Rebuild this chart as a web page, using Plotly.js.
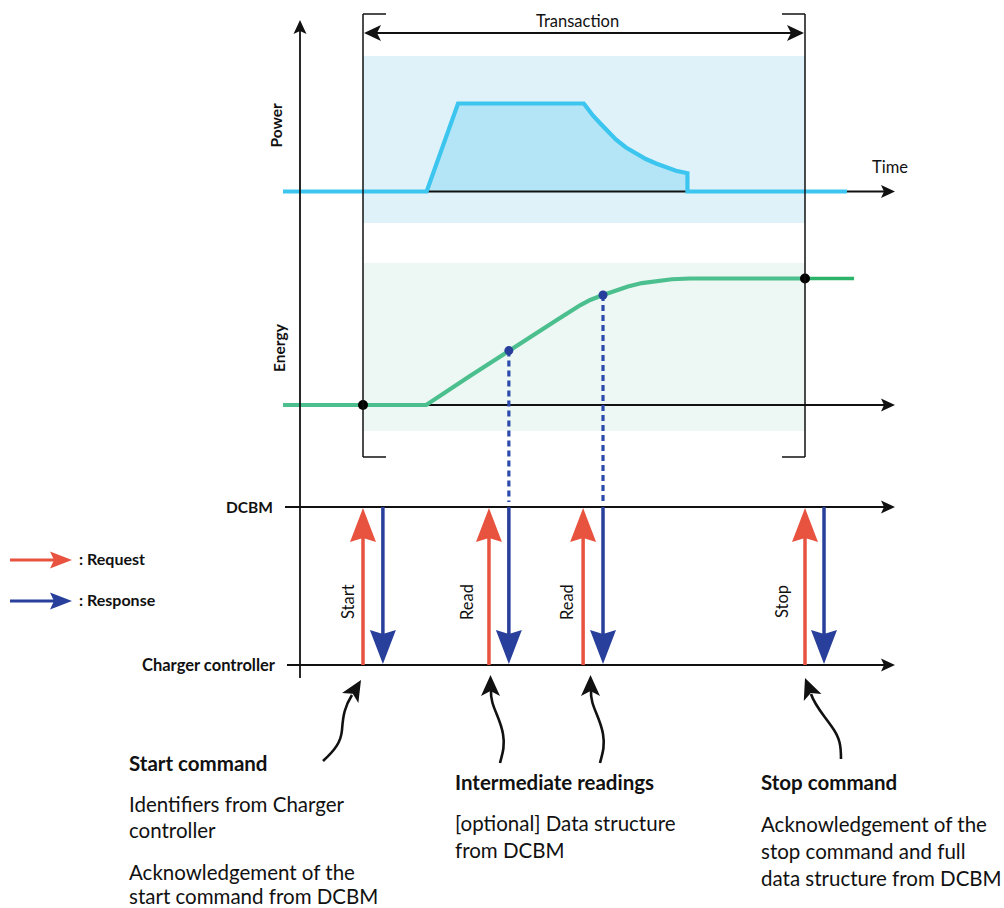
<!DOCTYPE html>
<html><head><meta charset="utf-8">
<script src="https://cdn.plot.ly/plotly-3.0.1.min.js"></script>
<style>html,body{margin:0;padding:0;background:#fff}#chart{width:1004px;height:908px}</style>
</head><body><div id="chart"></div>
<script>
// ---------------- data (time in % of transaction, power/energy relative) ----------------
const powerTime  = [-18.1, 14.4, 21.5, 49.95, 50.9, 52.0, 53.6, 55.4, 57.2, 59.5, 61.8, 64.0, 66.3, 68.6, 70.8, 73.4, 73.4, 109.5];
const powerValue = [0, 0, 1, 1, 0.938, 0.864, 0.778, 0.682, 0.591, 0.5, 0.432, 0.369, 0.318, 0.273, 0.235, 0.207, 0, 0];
const energyTime  = [-18.1, 14.3, 24.2, 32.85, 43.85, 49.2, 51.4, 54.3, 57.0, 59.95, 63.1, 66.3, 69.9, 74.0, 100];
const energyValue = [0, 0, 0.229, 0.427, 0.672, 0.79, 0.83, 0.87, 0.905, 0.937, 0.964, 0.982, 0.994, 1, 1];
const energyAfterTime  = [100, 111.1];
const energyAfterValue = [1, 1];
const eventLabels  = ['Start', 'Read', 'Read', 'Stop'];
const requestTime  = [0, 28.5, 49.8, 100];
const responseTime = [4.5, 33.0, 54.3, 104.3];
const readingTime   = [33.0, 54.3];
const readingEnergy = [0.43, 0.87];
const meterTime   = [0, 100];
const meterEnergy = [0, 1];
const transactionStart = 0, transactionEnd = 100;
const legendLabels = [': Request', ': Response'];
const yLabels = ['Power', 'Energy'];
const laneLabels = ['DCBM', 'Charger controller'];
const notes = [
  {title: 'Start command', lines: ['Identifiers from Charger', 'controller', 'Acknowledgement of the', 'start command from DCBM']},
  {title: 'Intermediate readings', lines: ['[optional] Data structure', 'from DCBM']},
  {title: 'Stop command', lines: ['Acknowledgement of the', 'stop command and full', 'data structure from DCBM']}
];

// ---------------- layout geometry ----------------
const W = 1004, H = 908;
const X0 = 363, XS = 4.42;            // pixel of t=0, px per time unit
const POW_BASE = 191.5, POW_PX = 88;  // power axis
const EN_BASE = 405, EN_PX = 126.5;   // energy axis
const px2t = p => (p - X0) / XS;
const fx = p => p / W;
const fy = p => 1 - p / H;
const px2E = p => (EN_BASE - p) / EN_PX;
const RED = '#e8533f', BLUE = '#283f9b', FONT = 'Lato, "Open Sans", sans-serif';

const powRange = [-(H - POW_BASE) / POW_PX, -(H - POW_BASE) / POW_PX + H / POW_PX];
const enRange  = [-(H - EN_BASE) / EN_PX, -(H - EN_BASE) / EN_PX + H / EN_PX];

function headPts(tx, ty, ux, uy, len, hw, notch) {
  const bx = tx - ux * len, by = ty - uy * len;
  const vx = -uy, vy = ux;
  return [[tx, ty], [bx + vx * hw, by + vy * hw], [tx - ux * (len - notch), ty - uy * (len - notch)], [bx - vx * hw, by - vy * hw]];
}
function polyPath(pts, cx, cy) {
  return 'M' + pts.map(p => cx(p[0]) + ',' + cy(p[1])).join(' L') + ' Z';
}
const shapes = [];
function paperHead(tx, ty, ux, uy, len, hw, notch, color) {
  shapes.push({type: 'path', xref: 'paper', yref: 'paper', path: polyPath(headPts(tx, ty, ux, uy, len, hw, notch), fx, fy),
    fillcolor: color, line: {width: 0}, layer: 'above'});
}
function paperLine(x0, y0, x1, y1, color, width, layer) {
  shapes.push({type: 'line', xref: 'paper', yref: 'paper', x0: fx(x0), y0: fy(y0), x1: fx(x1), y1: fy(y1),
    line: {color: color, width: width}, layer: layer || 'above'});
}
function curvePath(start, segs) {
  let s = 'M' + fx(start[0]) + ',' + fy(start[1]);
  segs.forEach(g => { s += ' C' + g.map(p => fx(p[0]) + ',' + fy(p[1])).join(' '); });
  return s;
}

// panels
shapes.push({type: 'rect', xref: 'x', yref: 'paper', x0: transactionStart, x1: transactionEnd, y0: fy(56), y1: fy(223),
  fillcolor: '#dff2fa', line: {width: 0}, layer: 'below'});
shapes.push({type: 'rect', xref: 'x', yref: 'paper', x0: transactionStart, x1: transactionEnd, y0: fy(263), y1: fy(431),
  fillcolor: '#edf7f3', line: {width: 0}, layer: 'below'});
// energy baseline axis
shapes.push({type: 'line', xref: 'x', yref: 'y2', x0: px2t(300), x1: px2t(885), y0: 0, y1: 0, line: {color: '#111', width: 1.8}, layer: 'below'});
// dotted reading lines
readingTime.forEach((t, i) => {
  shapes.push({type: 'line', xref: 'x', yref: 'y2', x0: t, x1: t, y0: readingEnergy[i], y1: px2E(502),
    line: {color: '#2b4aab', width: 3.2, dash: '6px,4px'}, layer: 'below'});
});
// transaction bracket
[transactionStart, transactionEnd].forEach((t, i) => {
  shapes.push({type: 'line', xref: 'x', yref: 'paper', x0: t, x1: t, y0: fy(14), y1: fy(457), line: {color: '#111', width: 1.5}, layer: 'above'});
  const d = (i === 0 ? 1 : -1) * 23 / XS;
  [14, 457].forEach(py => shapes.push({type: 'line', xref: 'x', yref: 'paper', x0: t, x1: t + d, y0: fy(py), y1: fy(py),
    line: {color: '#111', width: 1.5}, layer: 'above'}));
});
shapes.push({type: 'line', xref: 'x', yref: 'paper', x0: transactionStart + 8 / XS, x1: transactionEnd - 8 / XS, y0: fy(33), y1: fy(33),
  line: {color: '#111', width: 1.8}, layer: 'above'});
paperHead(X0 + transactionStart * XS + 1, 33, -1, 0, 17, 8, 4, '#111');
paperHead(X0 + transactionEnd * XS - 1, 33, 1, 0, 17, 8, 4, '#111');

// main axes
paperLine(300, 30, 300, 678, '#111', 1.8);
paperHead(300, 20, 0, -1, 14, 6.5, 3, '#111');
paperHead(895, POW_BASE, 1, 0, 14, 6.5, 3, '#111');
paperHead(895, EN_BASE, 1, 0, 14, 6.5, 3, '#111');
paperLine(285, 507, 885, 507, '#111', 1.8);
paperHead(895, 507, 1, 0, 14, 6.5, 3, '#111');
paperLine(287, 665, 885, 665, '#111', 1.8);
paperHead(895, 665, 1, 0, 14, 6.5, 3, '#111');

// request / response arrows
const tX = p => px2t(p);
requestTime.forEach(t => {
  shapes.push({type: 'line', xref: 'x', yref: 'paper', x0: t, x1: t, y0: fy(665), y1: fy(520), line: {color: RED, width: 3.5}, layer: 'above'});
  const px = X0 + t * XS;
  shapes.push({type: 'path', xref: 'x', yref: 'paper', path: polyPath(headPts(px, 508, 0, -1, 34, 13, 4), tX, fy),
    fillcolor: RED, line: {width: 0}, layer: 'above'});
});
responseTime.forEach(t => {
  shapes.push({type: 'line', xref: 'x', yref: 'paper', x0: t, x1: t, y0: fy(507), y1: fy(650), line: {color: BLUE, width: 3.5}, layer: 'above'});
  const px = X0 + t * XS;
  shapes.push({type: 'path', xref: 'x', yref: 'paper', path: polyPath(headPts(px, 664, 0, 1, 34, 13, 4), tX, fy),
    fillcolor: BLUE, line: {width: 0}, layer: 'above'});
});

// legend arrows
paperLine(10, 560, 56, 560, RED, 3);
paperHead(72, 560, 1, 0, 22, 8.5, 4, RED);
paperLine(10, 601, 56, 601, BLUE, 3);
paperHead(72, 601, 1, 0, 22, 8.5, 4, BLUE);

// curly pointer arrows
const curls = [
  {start: [323, 761], segs: [[[335, 750], [341, 742], [342, 730]], [[343, 715], [345, 706], [352, 695]]], tip: [361, 680], u: [0.514, -0.857]},
  {start: [500, 763], segs: [[[503, 752], [505, 745], [503, 734]], [[500, 716], [490, 706], [491, 690]]], tip: [490.5, 675], u: [0, -1]},
  {start: [600, 763], segs: [[[603, 752], [605, 745], [603, 734]], [[600, 716], [590, 706], [591, 690]]], tip: [590.5, 675], u: [0, -1]},
  {start: [841, 759], segs: [[[841, 746], [840, 738], [832, 727]], [[823, 714], [815, 706], [811, 694]]], tip: [805, 678], u: [-0.363, -0.932]}
];
curls.forEach(c => {
  shapes.push({type: 'path', xref: 'paper', yref: 'paper', path: curvePath(c.start, c.segs), line: {color: '#111', width: 2.6}, layer: 'above'});
  paperHead(c.tip[0], c.tip[1], c.u[0], c.u[1], 21, 9.5, 5, '#111');
});

// ---------------- annotations ----------------
const ann = [];
function txt(text, x, y, size, opts) {
  ann.push(Object.assign({text: text, xref: 'paper', yref: 'paper', x: fx(x), y: fy(y), showarrow: false,
    xanchor: 'left', yanchor: 'middle', font: {family: FONT, size: size, color: '#111'}}, opts || {}));
}
txt('Transaction', 577, 21, 16.5, {xanchor: 'center'});
txt('Time', 870, 167, 16.5);
txt('<b>' + yLabels[0] + '</b>', 276, 125.5, 15.5, {xanchor: 'center', textangle: -90});
txt('<b>' + yLabels[1] + '</b>', 279, 348, 15.5, {xanchor: 'center', textangle: -90});
txt('<b>' + laneLabels[0] + '</b>', 275, 507, 15.5, {xanchor: 'right'});
txt('<b>' + laneLabels[1] + '</b>', 278, 665, 16.5, {xanchor: 'right'});
txt('<b>' + legendLabels[0] + '</b>', 77, 558, 16);
txt('<b>' + legendLabels[1] + '</b>', 77, 599, 16);
const labelShift = [-15, -22, -16, -23];
eventLabels.forEach((l, i) => {
  ann.push({text: l, xref: 'x', yref: 'paper', x: requestTime[i], xshift: labelShift[i], y: fy(602), showarrow: false,
    xanchor: 'center', yanchor: 'middle', textangle: -90, font: {family: FONT, size: 16.5, color: '#111'}});
});
const noteX = [127, 453, 759];
const noteY = [[763, 804, 830, 872, 896], [782, 823, 850], [782, 824, 851, 878]];
notes.forEach((n, i) => {
  txt('<b>' + n.title + '</b>', noteX[i], noteY[i][0], 20.5);
  n.lines.forEach((l, j) => txt(l, noteX[i], noteY[i][j + 1], 20.5));
});

// ---------------- traces ----------------
const traces = [
  {x: powerTime, y: powerValue, mode: 'lines', fill: 'tozeroy', fillcolor: '#b3e5f6', line: {width: 0}, xaxis: 'x', yaxis: 'y', hoverinfo: 'skip'},
  {x: [px2t(300), px2t(885)], y: [0, 0], mode: 'lines', line: {color: '#111', width: 1.8}, xaxis: 'x', yaxis: 'y', hoverinfo: 'skip'},
  {x: powerTime, y: powerValue, mode: 'lines', line: {color: '#3cc5ee', width: 4.2}, xaxis: 'x', yaxis: 'y', name: 'Power'},
  {x: energyTime, y: energyValue, mode: 'lines', line: {color: '#4cbf8e', width: 4.2}, xaxis: 'x', yaxis: 'y2', name: 'Energy'},
  {x: energyAfterTime, y: energyAfterValue, mode: 'lines', line: {color: '#2bb36a', width: 3.6}, xaxis: 'x', yaxis: 'y2', hoverinfo: 'skip'},
  {x: readingTime, y: readingEnergy, mode: 'markers', marker: {color: BLUE, size: 9}, xaxis: 'x', yaxis: 'y2', name: 'Readings'},
  {x: meterTime, y: meterEnergy, mode: 'markers', marker: {color: '#000', size: 10}, xaxis: 'x', yaxis: 'y2', name: 'Meter'}
];

const layout = {
  width: W, height: H, autosize: false,
  margin: {l: 0, r: 0, t: 0, b: 0, pad: 0},
  paper_bgcolor: '#fff', plot_bgcolor: '#fff', showlegend: false,
  xaxis: {range: [px2t(0), px2t(W)], visible: false, fixedrange: true},
  yaxis: {range: powRange, visible: false, fixedrange: true},
  yaxis2: {range: enRange, visible: false, overlaying: 'y', anchor: 'x', fixedrange: true},
  shapes: shapes, annotations: ann
};
Plotly.newPlot('chart', traces, layout, {staticPlot: true, displayModeBar: false});
</script></body></html>
